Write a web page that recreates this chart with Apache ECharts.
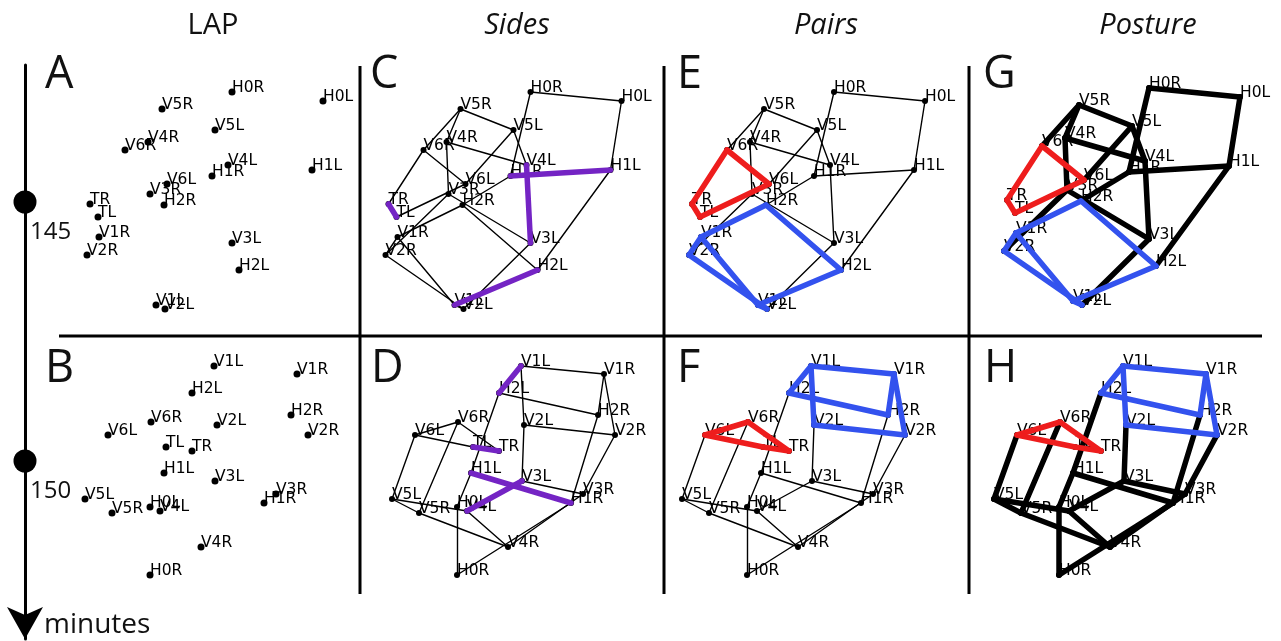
<!DOCTYPE html>
<html><head><meta charset="utf-8">
<script src="https://cdn.jsdelivr.net/npm/echarts@6/dist/echarts.min.js"></script>
<style>html,body{margin:0;padding:0;background:#fff}#c{width:1281px;height:641px}</style>
</head><body><div id="c"></div>
<script>
// ---------------- data ----------------
const minuteTicks = [145, 150];
const columnTitles = ['LAP', 'Sides', 'Pairs', 'Posture'];
const panelLetters = ['A', 'B', 'C', 'D', 'E', 'F', 'G', 'H'];

// node positions at 145 minutes (panel units, y downward)
const topNames = ['H0R','H0L','V5R','V5L','V4R','V6R','V4L','H1R','H1L','V6L','V3R','H2R','TR','TL','V1R','V2R','V3L','H2L','V1L','V2L'];
const topX     = [172, 263, 102, 155,  88,  65, 168, 152, 252, 107,  90, 104,  30,  38,  39,  27, 172, 179,  96, 105];
const topY     = [ 32,  41,  49,  70,  82,  90, 105, 116, 110, 124, 134, 145, 144, 157, 177, 195, 183, 210, 245, 249];

// node positions at 150 minutes
const botNames = ['V1L','V1R','H2L','H2R','V6R','V2L','V6L','V2R','TL','TR','H1L','V3L','V3R','H1R','V5L','V5R','H0L','V4L','V4R','H0R'];
const botX     = [154, 237, 132, 231,  91, 157,  48, 248, 106, 132, 104, 155, 216, 204,  25,  52,  90, 100, 141,  90];
const botY     = [ 26,  34,  53,  75,  82,  85,  95,  95, 107, 111, 133, 141, 154, 163, 159, 173, 167, 171, 207, 235];

// lattice: two sides plus left/right pairs
const sideLeft  = ['H0L','H1L','H2L','V1L','V2L','V3L','V4L','V5L','V6L','TL'];
const sideRight = ['H0R','H1R','H2R','V1R','V2R','V3R','V4R','V5R','V6R','TR'];
const pairCells = ['H0','H1','H2','V1','V2','V3','V4','V5','V6','T'];

// highlighted edges
const sidesHighlight = [['TR','TL'],['H1R','H1L'],['V3L','V4L'],['H2L','V1L']];
const pairsRed  = [['V6R','V6L'],['V6L','TL'],['TL','TR'],['TR','V6R']];
const pairsBlue = [['H2R','H2L'],['H2L','V1L'],['V1L','V2L'],['V1L','V1R'],['V2L','V2R'],['V1R','V2R'],['H2R','V1R']];

// ---------------- build ----------------
const PURPLE = '#7424c4', RED = '#ee1d1d', BLUE = '#3352ee';
const edges = [];
for (let i = 0; i < sideLeft.length - 1; i++) { edges.push([sideLeft[i], sideLeft[i+1]]); edges.push([sideRight[i], sideRight[i+1]]); }
pairCells.forEach(c => edges.push([c + 'L', c + 'R']));
const key = e => [e[0], e[1]].sort().join('-');

function nodeMap(names, xs, ys) { const m = {}; names.forEach((n, i) => m[n] = [xs[i], ys[i]]); return m; }
const graphs = { top: nodeMap(topNames, topX, topY), bot: nodeMap(botNames, botX, botY) };
const graphNames = { top: topNames, bot: botNames };

const layout = [
  { g: 'top', ox: 60,    oy: 60, mode: 'none' },
  { g: 'bot', ox: 60,    oy: 340, mode: 'none' },
  { g: 'top', ox: 358.5, oy: 60, mode: 'sides' },
  { g: 'bot', ox: 367,   oy: 340, mode: 'sides' },
  { g: 'top', ox: 662,   oy: 60, mode: 'pairs' },
  { g: 'bot', ox: 657,   oy: 340, mode: 'pairs' },
  { g: 'top', ox: 977,   oy: 56, mode: 'posture' },
  { g: 'bot', ox: 969,   oy: 340, mode: 'posture' }
];
const letterPos = [[45,72],[45,366],[370,72],[371,366],[677,72],[677,366],[983,72],[984,366]];

const grid = [], xAxis = [], yAxis = [], series = [];
layout.forEach((p, gi) => {
  grid.push({ left: p.ox, top: p.oy, width: 300, height: 270 });
  xAxis.push({ gridIndex: gi, type: 'value', min: 0, max: 300, show: false });
  yAxis.push({ gridIndex: gi, type: 'value', min: 0, max: 270, inverse: true, show: false });
  const nm = graphs[p.g];
  const line = (list, color, width, z) => ({
    type: 'lines', coordinateSystem: 'cartesian2d', xAxisIndex: gi, yAxisIndex: gi, z: z, silent: true,
    lineStyle: { color: color, width: width, opacity: 1, cap: 'round', join: 'round' },
    data: list.map(e => ({ coords: [nm[e[0]], nm[e[1]]] }))
  });
  if (p.mode !== 'none') {
    let specialSets = [];
    if (p.mode === 'sides') specialSets = [[sidesHighlight, PURPLE]];
    else specialSets = [[pairsRed, RED], [pairsBlue, BLUE]];
    const sk = new Set(); specialSets.forEach(s => s[0].forEach(e => sk.add(key(e))));
    const rest = edges.filter(e => !sk.has(key(e)));
    if (p.mode === 'posture') series.push(line(rest, '#000', 5.5, 4));
    else series.push(line(rest, '#000', 1.4, 2));
    specialSets.forEach(s => series.push(line(s[0], s[1], 5.5, 5)));
  }
  const sz = p.mode === 'none' ? 7 : 6;
  series.push({
    type: 'scatter', xAxisIndex: gi, yAxisIndex: gi, z: 3, silent: true,
    symbolSize: sz, itemStyle: { color: '#000', opacity: 1 },
    label: { show: true, position: [sz/2, sz/2 - 4.5], align: 'left', verticalAlign: 'middle',
      fontFamily: 'DejaVu Sans', fontSize: 15.5, color: '#000', formatter: d => d.name },
    data: graphNames[p.g].map(n => ({ name: n, value: nm[n] }))
  });
});

// timeline
const tgi = layout.length;
const yTop = 65, yBot = 639, y145 = 202, y150 = 461;
const ppm = (y150 - y145) / (minuteTicks[1] - minuteTicks[0]);
grid.push({ left: 25, top: yTop, width: 10, height: yBot - yTop });
xAxis.push({ gridIndex: tgi, type: 'value', min: 0, max: 1, show: false });
yAxis.push({ gridIndex: tgi, type: 'value', inverse: true,
  min: minuteTicks[0] - (y145 - yTop) / ppm, max: minuteTicks[1] + (yBot - y150) / ppm,
  axisLine: { show: true, onZero: false, lineStyle: { color: '#000', width: 3 }, symbol: ['arrow', 'none'], symbolSize: [27, 32] },
  axisTick: { show: false }, axisLabel: { show: false }, splitLine: { show: false } });
series.push({ type: 'scatter', xAxisIndex: tgi, yAxisIndex: tgi, symbolSize: 23, z: 5, silent: true,
  itemStyle: { color: '#000', opacity: 1 },
  label: { show: true, position: [16.5, 41.5], align: 'left', verticalAlign: 'middle',
    fontFamily: 'Open Sans', fontSize: 24, color: '#111', formatter: d => String(d.value[1]) },
  data: minuteTicks.map(m => [0, m]) });

// decorations
const graphic = [];
const titleX = [213, 517, 826, 1148];
columnTitles.forEach((t, i) => graphic.push({ type: 'text', x: titleX[i], y: 26, silent: true,
  style: { text: t, font: (i ? 'italic ' : '') + '29px "Open Sans"', fill: '#111', align: 'center', verticalAlign: 'middle' } }));
panelLetters.forEach((t, i) => graphic.push({ type: 'text', x: letterPos[i][0], y: letterPos[i][1] + 3, silent: true,
  style: { text: t, font: '45px "Open Sans"', fill: '#111', align: 'left', verticalAlign: 'middle' } }));
[360, 664, 969].forEach(x => graphic.push({ type: 'line', silent: true, shape: { x1: x, y1: 66, x2: x, y2: 594 }, style: { stroke: '#000', lineWidth: 3 } }));
graphic.push({ type: 'line', silent: true, shape: { x1: 59, y1: 336, x2: 1262, y2: 336 }, style: { stroke: '#000', lineWidth: 3 } });
graphic.push({ type: 'text', x: 44, y: 625, silent: true, style: { text: 'minutes', font: '28px "Open Sans"', fill: '#111', align: 'left', verticalAlign: 'middle' } });

const chart = echarts.init(document.getElementById('c'), null, { renderer: 'canvas' });
chart.setOption({ animation: false, backgroundColor: '#fff', grid, xAxis, yAxis, series, graphic });
</script></body></html>
